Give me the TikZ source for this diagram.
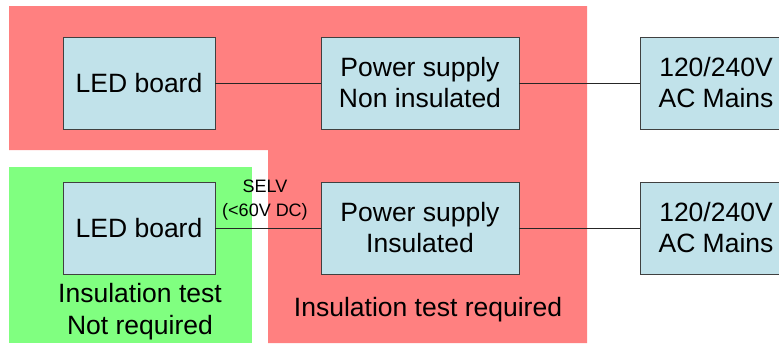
\documentclass[tikz,border=0pt]{standalone}
\usepackage{fontspec}
\setmainfont{Liberation Sans}
\usepackage{xcolor}
\usetikzlibrary{positioning}
\definecolor{boxblue}{RGB}{193,226,234}
\definecolor{zonered}{RGB}{255,128,128}
\definecolor{zonegreen}{RGB}{128,255,128}

\begin{document}
\begin{tikzpicture}[x=1pt,y=-1pt,
  blk/.style={draw=black!75,line width=0.8pt,fill=boxblue,align=center,inner sep=0pt,
    minimum height=92pt,font=\fontsize{26.5}{31}\selectfont},
  led/.style={blk,minimum width=152pt},
  psu/.style={blk,minimum width=198pt},
  wire/.style={line width=0.8pt,black!85},
  zonetxt/.style={align=center,font=\fontsize{26.5}{32}\selectfont}]
\clip (0,0) rectangle (779,343);
\fill[white] (0,0) rectangle (779,343);
% test zones
\fill[zonered] (9,6) -- (587,6) -- (587,343) -- (268,343) -- (268,150) -- (9,150) -- cycle;
\fill[zonegreen] (9,167) rectangle (252,343);
% non insulated chain
\node[led] (led1) at (139,83) {LED board};
\node[psu] (psu1) at (420,83) {Power supply\\Non insulated};
\node[led] (ac1) at (716,83) {120/240V\\AC Mains};
\draw[wire] (led1.east) -- (psu1.west);
\draw[wire] (psu1.east) -- (ac1.west);
% insulated chain
\node[led] (led2) at (139,228) {LED board};
\node[psu] (psu2) at (420,228) {Power supply\\Insulated};
\node[led] (ac2) at (716,228) {120/240V\\AC Mains};
\draw[wire] (led2.east) -- (psu2.west);
\draw[wire] (psu2.east) -- (ac2.west);
\node[align=center,font=\fontsize{18}{24}\selectfont] (selv) at (265,200) {SELV\\(<60V DC)};
% zone labels
\node[zonetxt] (notreq) at (140,312) {Insulation test\\Not required};
\node[zonetxt] (req) at (428,310) {Insulation test required};
\end{tikzpicture}
\end{document}
